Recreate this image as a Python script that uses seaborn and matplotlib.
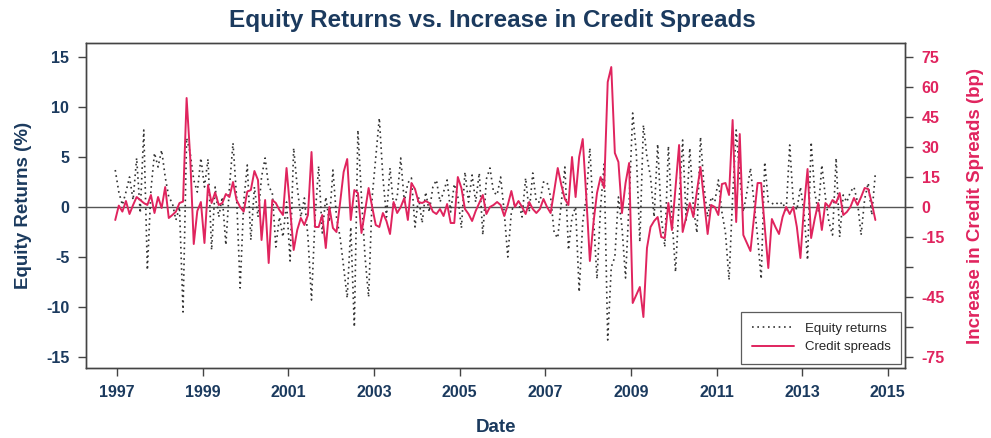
import matplotlib
matplotlib.use('Agg')
import matplotlib.pyplot as plt
import matplotlib.ticker as mticker
import numpy as np
import pandas as pd
import seaborn as sns

# monthly equity returns (%), Jan 1997 - Oct 2014
equity = [
    3.7, 1.5, 0.2, 1.5, 3.0, 0.7, 4.9, -0.6, 7.7, -6.3, 1.7, 5.4,
    4.0, 5.7, 3.0, 1.0, 0.4, -1.3, 0.0, -10.5, 6.9, 5.4, 2.7, 1.5,
    4.9, 2.0, 4.8, -4.3, 2.0, -1.0, 1.0, -3.8, 2.0, 6.4, 1.0, -8.1,
    0.5, 4.2, -3.3, 2.0, -1.0, 3.0, 4.9, 2.0, 1.5, -4.0, -1.0, -3.0,
    0.5, -5.4, 5.9, 2.0, -1.0, 0.9, -3.0, -9.3, -1.0, 4.1, -2.6, 1.0,
    -1.5, 3.7, -1.0, -3.0, -6.0, -9.1, -2.0, -12.0, 7.7, 1.0, -5.0, -9.0,
    1.0, 5.0, 8.9, 3.0, -1.0, 3.9, 0.0, 1.0, 4.9, 0.5, 2.4, 2.9,
    -2.0, 1.0, -1.6, 1.5, -0.5, 2.0, 2.7, 0.5, 1.5, 2.7, -0.5, 2.3,
    1.0, -2.1, 3.5, 0.5, 3.2, 0.5, 3.4, -2.8, 2.8, 3.9, 1.5, 1.2,
    3.0, -0.5, -5.0, -0.5, 0.5, 0.5, -1.0, 2.9, -0.5, 3.4, 0.5, 0.5,
    2.5, 2.5, 1.0, -2.6, -3.1, 0.5, 4.0, -4.3, -1.0, 0.0, -8.5, -1.5,
    1.0, 5.9, -1.0, -7.2, 0.0, 4.3, -13.3, -6.0, -5.0, 1.0, -2.0, -7.1,
    0.5, 9.4, 5.5, -3.5, 8.2, 5.0, 3.0, -1.0, 6.3, -1.0, -4.0, 6.1,
    -1.0, -6.5, 0.5, 6.7, -1.3, 5.9, 0.0, -2.6, 7.0, 2.0, -1.0, 1.0,
    0.5, 2.7, -0.5, -2.6, -7.3, 1.0, 7.7, 3.0, -0.5, 1.5, 3.9, 0.5,
    -3.0, -7.2, 4.5, 0.5, 0.3, 0.5, 0.2, 0.5, -0.5, 6.2, 0.5, -0.3,
    2.0, -0.5, -5.3, 6.5, 1.5, -0.5, 4.2, 1.0, -1.5, -2.8, 4.9, -3.0,
    1.2, 0.5, 1.5, 2.0, 0.5, -2.8, 0.8, 2.4, -0.8, 3.4,
]

# monthly change in credit spreads (bp)
spreads = [
    -6.5, 0.7, -2.3, 3.0, -3.5, 1.0, 5.0, 3.5, 2.0, 1.0, 6.0, -3.0,
    5.0, -0.5, 10.0, -5.5, -4.0, -2.3, 2.0, 2.7, 54.5, 25.0, -18.5, -2.0,
    2.5, -18.0, 11.0, 2.0, 7.3, 1.0, 2.0, 6.5, 5.0, 12.5, 3.5, 0.0,
    -2.3, 7.7, 8.5, 18.0, 13.5, -16.5, 3.5, -28.0, 3.5, 2.0, -1.5, -4.0,
    19.5, -1.0, -21.5, -11.5, -5.5, -9.0, -4.0, 27.5, -10.0, -10.0, -4.0, -20.5,
    0.0, -10.5, -12.5, 2.0, 17.5, 24.0, -6.5, 8.5, 7.0, -13.0, -2.0, 9.5,
    0.0, -9.0, -10.0, -3.0, -7.0, -13.5, 2.5, -3.0, 0.0, 4.5, -6.5, 12.0,
    9.0, 2.5, 2.0, 3.0, 2.0, -2.3, -3.5, -1.0, -4.5, 1.5, -8.0, -8.0,
    15.0, 9.5, -1.0, -3.5, -7.0, -2.0, 2.0, 6.0, -3.5, 0.0, 1.0, 2.5,
    1.0, -4.5, 1.0, 8.0, 0.0, 3.0, 0.0, -3.5, 2.5, -1.0, -3.0, -1.0,
    4.0, 0.0, -3.0, 8.0, 19.5, 11.0, 4.0, 1.0, 25.0, 5.0, 25.0, 34.0,
    5.0, -27.0, -8.0, 7.0, 15.0, 9.5, 62.5, 70.0, 27.0, 22.5, -3.0, 12.0,
    22.0, -48.0, -44.0, -40.0, -55.0, -20.5, -10.0, -7.0, -5.0, -15.0, -15.5, 2.0,
    -11.5, 10.0, 31.0, -12.5, -5.0, 2.0, -5.0, 8.0, 20.0, 3.0, -13.5, 1.0,
    0.0, -4.0, 11.5, 12.0, 6.0, 43.5, -7.5, 36.5, -14.0, -18.0, -22.0, -5.0,
    12.0, 12.0, -10.0, -30.5, -6.0, -10.0, -13.5, -5.0, 0.0, -3.5, 0.0, -10.0,
    -25.5, 0.0, 19.0, -15.5, -6.0, 2.0, -11.5, 2.0, 0.0, 3.5, 2.0, 7.0,
    -4.0, -2.5, 0.0, 4.5, 1.0, 5.0, 9.5, 9.0, 2.0, -6.5,
]

dates = pd.date_range('1997-01-01', periods=len(equity), freq='MS')
df = pd.DataFrame({
    'Date': dates.year + (dates.month - 1.5) / 12,
    'Equity': equity,
    'Spreads': spreads,
})

year_ticks = list(range(1997, 2016, 2))
left_ticks = [-15, -10, -5, 0, 5, 10, 15]
right_ticks = [-75, -60, -45, -30, -15, 0, 15, 30, 45, 60, 75]
right_labels = ['-75', '', '-45', '', '-15', '0', '15', '30', '45', '60', '75']

navy = '#1B3A5E'
crimson = '#E0245E'

sns.set_style('white')
plt.rcParams['font.family'] = ['Liberation Sans', 'DejaVu Sans']
plt.rcParams['axes.unicode_minus'] = False

fig = plt.figure(figsize=(9.91, 4.38), dpi=100)
ax = fig.add_axes([0.0868, 0.1598, 0.8264, 0.742])
ax2 = ax.twinx()

ax.axhline(0, color='#555555', lw=1.0, zorder=1)
sns.lineplot(data=df, x='Date', y='Equity', ax=ax, color='#333333',
             linestyle=(0, (1, 2.2)), lw=1.2, label='Equity returns', legend=False)
sns.lineplot(data=df, x='Date', y='Spreads', ax=ax2, color=crimson,
             lw=1.4, label='Credit spreads', legend=False)

ax.set_xlim(1996.276, 2015.40)
ax.set_ylim(-16.1, 16.4)
ax2.set_ylim(-80.5, 82.0)

ax.set_xticks(year_ticks)
ax.set_yticks(left_ticks)
ax2.set_yticks(right_ticks)
ax2.yaxis.set_major_formatter(mticker.FixedFormatter(right_labels))

for a in (ax, ax2):
    for s in a.spines.values():
        s.set_color('#444444')
        s.set_linewidth(1.0)

ax.tick_params(axis='both', direction='out', length=6, width=1, color='#444444',
               labelsize=11.5, labelcolor=navy, pad=6, left=True, bottom=True)
ax2.tick_params(axis='y', direction='out', length=6, width=1, color='#444444',
                labelsize=11.5, labelcolor=crimson, pad=6, right=True)
for lab in ax.get_xticklabels() + ax.get_yticklabels():
    lab.set_fontweight('bold')
for lab in ax2.get_yticklabels():
    lab.set_fontweight('bold')

ax.set_xlabel('Date', fontsize=13.5, fontweight='bold', color=navy, labelpad=14)
ax.set_ylabel('Equity Returns (%)', fontsize=13.5, fontweight='bold', color=navy, labelpad=10)
ax2.set_ylabel('Increase in Credit Spreads (bp)', fontsize=13.5, fontweight='bold',
               color=crimson, labelpad=16)

fig.suptitle('Equity Returns vs. Increase in Credit Spreads', x=0.497, y=0.98,
             fontsize=17.5, fontweight='bold', color=navy)

h1, l1 = ax.get_legend_handles_labels()
h2, l2 = ax2.get_legend_handles_labels()
leg = ax2.legend(h1 + h2, l1 + l2, loc='lower right', fontsize=9.5,
                 frameon=True, fancybox=False, edgecolor='#333333',
                 borderpad=0.8, handlelength=3.2, borderaxespad=0.3)
leg.get_frame().set_linewidth(0.9)

fig.savefig('out.png', dpi=100)
